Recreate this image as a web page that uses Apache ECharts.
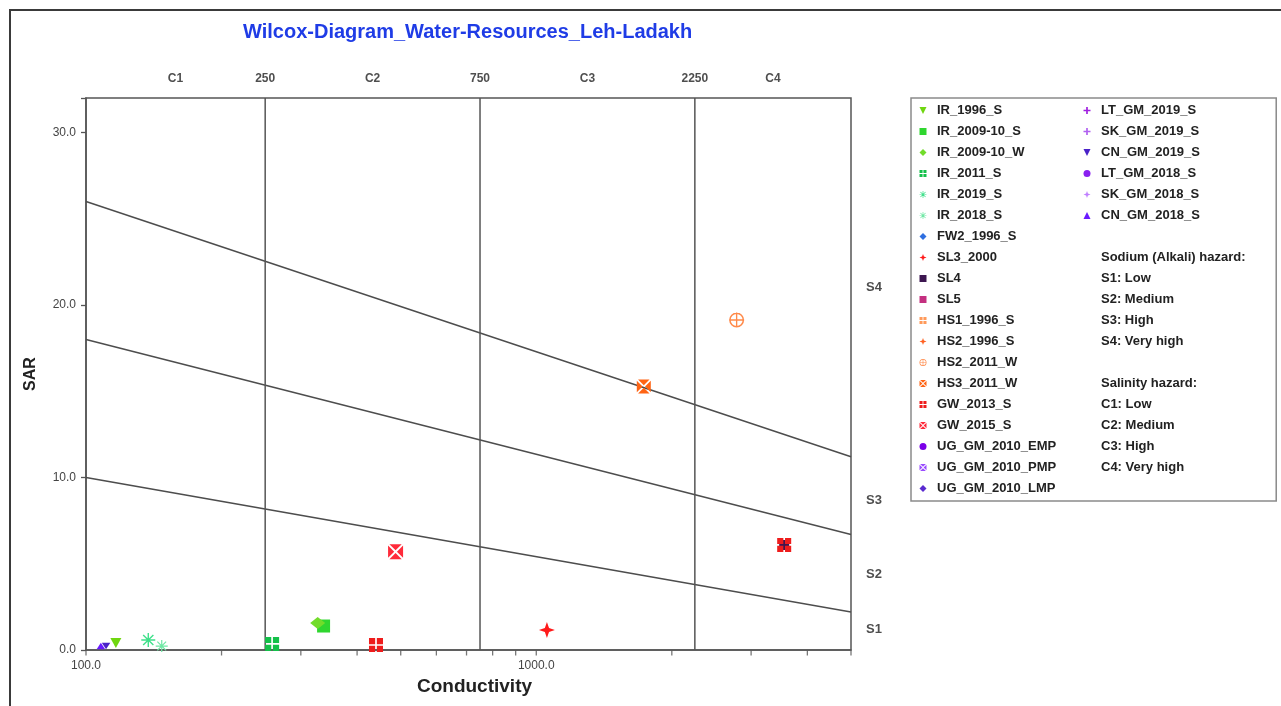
<!DOCTYPE html>
<html><head><meta charset="utf-8">
<script src="https://cdn.jsdelivr.net/npm/echarts@6/dist/echarts.min.js"></script>
<style>
html,body{margin:0;padding:0;background:#fff;width:1281px;height:706px;overflow:hidden}
#frame{position:absolute;left:9px;top:9px;width:1272px;height:697px;border-left:2px solid #3a3a3a;border-top:2px solid #3a3a3a;box-sizing:border-box}
#chart{position:absolute;left:0;top:0;width:1281px;height:706px}
</style></head><body>
<div id="frame"></div><div id="chart"></div>
<script>
// ---------- data ----------
const xRange = [100, 5000];
const yRange = [0, 32];
const xTickValues = [100, 200, 300, 400, 500, 600, 700, 800, 900, 1000, 2000, 3000, 4000, 5000];
const salinityBounds = [250, 750, 2250];
const topLabelPositions = [158, 250, 433, 750, 1299, 2250, 3354];
const topLabelTexts = ['C1', '250', 'C2', '750', 'C3', '2250', 'C4'];
const sodiumLabelPositions = [1.2, 4.4, 8.7, 21.0];
const sodiumLabelTexts = ['S1', 'S2', 'S3', 'S4'];
const lineS3S4 = [[100, 26], [5000, 11.2]];
const lineS2S3 = [[100, 18], [5000, 6.7]];
const lineS1S2 = [[100, 10], [5000, 2.2]];

const IR_1996_S = [[116.5, 0.41]];
const IR_2009_10_S = [[337, 1.39]];
const IR_2009_10_W = [[327, 1.57]];
const IR_2011_S = [[259, 0.35]];
const IR_2019_S = [[137.5, 0.58]];
const IR_2018_S = [[147.3, 0.23]];
const FW2_1996_S = [];
const SL3_2000 = [[1056, 1.16]];
const SL4 = [[3553, 6.09]];
const SL5 = [];
const HS1_1996_S = [];
const HS2_1996_S = [];
const HS2_2011_W = [[2786, 19.13]];
const HS3_2011_W = [[1733, 15.27]];
const GW_2013_S = [[440.6, 0.29], [3553, 6.09]];
const GW_2015_S = [[487, 5.70]];
const UG_GM_2010_EMP = [];
const UG_GM_2010_PMP = [];
const UG_GM_2010_LMP = [];
const LT_GM_2019_S = [];
const SK_GM_2019_S = [];
const CN_GM_2019_S = [[110.8, 0.23]];
const LT_GM_2018_S = [];
const SK_GM_2018_S = [];
const CN_GM_2018_S = [[107.9, 0.23]];

const leftLegendNames = ['IR_1996_S','IR_2009-10_S','IR_2009-10_W','IR_2011_S','IR_2019_S','IR_2018_S','FW2_1996_S','SL3_2000','SL4','SL5','HS1_1996_S','HS2_1996_S','HS2_2011_W','HS3_2011_W','GW_2013_S','GW_2015_S','UG_GM_2010_EMP','UG_GM_2010_PMP','UG_GM_2010_LMP'];
const rightLegendNames = ['LT_GM_2019_S','SK_GM_2019_S','CN_GM_2019_S','LT_GM_2018_S','SK_GM_2018_S','CN_GM_2018_S'];
const sodiumHazardTexts = ['Sodium (Alkali) hazard:', 'S1: Low', 'S2: Medium', 'S3: High', 'S4: Very high'];
const salinityHazardTexts = ['Salinity hazard:', 'C1: Low', 'C2: Medium', 'C3: High', 'C4: Very high'];

// ---------- styles ----------
const FONT = '"Liberation Sans", Arial, sans-serif';
const SYM = {
  tri: 'path://M5 0 L10 10 L0 10 Z',
  triDown: 'path://M0 0 L10 0 L5 10 Z',
  dia: 'path://M5 0 L10 5 L5 10 L0 5 Z',
  sq: 'path://M0 0 H10 V10 H0 Z',
  circ: 'path://M0 5 A5 5 0 1 1 10 5 A5 5 0 1 1 0 5 Z',
  star4: 'path://M5 0 L6.3 3.7 L10 5 L6.3 6.3 L5 10 L3.7 6.3 L0 5 L3.7 3.7 Z',
  aster: 'path://M0 4.5 H10 V5.5 H0 Z M4.5 0 H5.5 V10 H4.5 Z M1 1.7 L1.7 1 L9 8.3 L8.3 9 Z M8.3 1 L9 1.7 L1.7 9 L1 8.3 Z',
  cplus: 'path://M0 5 A5 5 0 1 1 10 5 A5 5 0 1 1 0 5 Z M1 5 A4 4 0 1 0 9 5 A4 4 0 1 0 1 5 Z M4.55 0 H5.45 V10 H4.55 Z M0 4.55 H10 V5.45 H0 Z',
  sqx: 'path://M0.9 0 H9.1 L5 4.1 Z M10 0.9 V9.1 L5.9 5 Z M9.1 10 H0.9 L5 5.9 Z M0 9.1 V0.9 L4.1 5 Z',
  sqp: 'path://M0 0 H4.4 V4.4 H0 Z M5.6 0 H10 V4.4 H5.6 Z M0 5.6 H4.4 V10 H0 Z M5.6 5.6 H10 V10 H5.6 Z',
  plus: 'path://M3.8 0 H6.2 V3.8 H10 V6.2 H6.2 V10 H3.8 V6.2 H0 V3.8 H3.8 Z'
};
const pointDefs = [
  ['IR_1996_S', IR_1996_S, SYM.triDown, [11, 10], '#6fd60f'],
  ['IR_2009-10_S', IR_2009_10_S, SYM.sq, 13, '#2fd62f'],
  ['IR_2009-10_W', IR_2009_10_W, SYM.dia, [15, 12], '#72dc2a'],
  ['IR_2011_S', IR_2011_S, SYM.sqp, 14, '#14c04a'],
  ['IR_2019_S', IR_2019_S, SYM.aster, 14, '#3fe08a'],
  ['IR_2018_S', IR_2018_S, SYM.aster, 12, '#6ee8a4'],
  ['FW2_1996_S', FW2_1996_S, SYM.dia, 10, '#2f6fe0'],
  ['SL3_2000', SL3_2000, SYM.star4, 16, '#ff1a1a'],
  ['SL4', SL4, SYM.plus, 10, '#3d1650'],
  ['SL5', SL5, SYM.sq, 10, '#c43080'],
  ['HS1_1996_S', HS1_1996_S, SYM.sqp, 10, '#ff9a5a'],
  ['HS2_1996_S', HS2_1996_S, SYM.star4, 10, '#ff6020'],
  ['HS2_2011_W', HS2_2011_W, SYM.cplus, 15, '#ff8a4a'],
  ['HS3_2011_W', HS3_2011_W, SYM.sqx, 14, '#ff6414'],
  ['GW_2013_S', GW_2013_S, SYM.sqp, 14, '#ee1c1c'],
  ['GW_2015_S', GW_2015_S, SYM.sqx, 15, '#ff2a3a'],
  ['UG_GM_2010_EMP', UG_GM_2010_EMP, SYM.circ, 10, '#7a00e8'],
  ['UG_GM_2010_PMP', UG_GM_2010_PMP, SYM.sqx, 10, '#9a4cff'],
  ['UG_GM_2010_LMP', UG_GM_2010_LMP, SYM.dia, 10, '#5a2ad0'],
  ['LT_GM_2019_S', LT_GM_2019_S, SYM.plus, 10, '#a020e0'],
  ['SK_GM_2019_S', SK_GM_2019_S, SYM.plus, 10, '#b060f0'],
  ['CN_GM_2019_S', CN_GM_2019_S, SYM.triDown, [8.5, 6.5], '#4a22c8'],
  ['LT_GM_2018_S', LT_GM_2018_S, SYM.circ, 10, '#8a20f0'],
  ['SK_GM_2018_S', SK_GM_2018_S, SYM.star4, 10, '#c080ff'],
  ['CN_GM_2018_S', CN_GM_2018_S, SYM.tri, [8.5, 6.5], '#6a1aff']
];

const series = [];
const lineStyle = { color: '#4d4d4d', width: 1.5 };
[lineS3S4, lineS2S3, lineS1S2].forEach((d, i) => series.push({
  type: 'line', name: 'sodium-boundary-' + i, data: d, symbol: 'none', silent: true, z: 1,
  lineStyle: lineStyle, animation: false
}));
salinityBounds.forEach((v, i) => series.push({
  type: 'line', name: 'salinity-boundary-' + i, data: [[v, yRange[0]], [v, yRange[1]]], symbol: 'none',
  silent: true, z: 1, lineStyle: { color: '#555', width: 1.5 }, animation: false
}));
series.push({
  type: 'scatter', name: 'xticks', data: xTickValues.map(v => [v, yRange[0]]), clip: false, silent: true,
  symbol: 'path://M0 0 H1 V5 H0 Z', symbolSize: [1.3, 5], symbolOffset: [0, 3],
  itemStyle: { color: '#555' }, z: 2
});
series.push({
  type: 'scatter', name: 'toplabels', data: topLabelPositions.map(v => [v, yRange[1]]), clip: false, silent: true,
  symbolSize: 0, itemStyle: { color: 'rgba(0,0,0,0)' },
  label: { show: true, position: 'top', distance: 13, formatter: p => topLabelTexts[p.dataIndex],
    color: '#222', fontSize: 12, fontWeight: 'bold', fontFamily: FONT }
});
series.push({
  type: 'scatter', name: 'sidelabels', data: sodiumLabelPositions.map(v => [xRange[1], v]), clip: false, silent: true,
  symbolSize: 0, itemStyle: { color: 'rgba(0,0,0,0)' },
  label: { show: true, position: 'right', distance: 15, formatter: p => sodiumLabelTexts[p.dataIndex],
    color: '#222', fontSize: 13, fontWeight: 'bold', fontFamily: FONT }
});
pointDefs.forEach(d => series.push({
  type: 'scatter', name: d[0], data: d[1], symbol: d[2], symbolSize: d[3],
  itemStyle: { color: d[4], opacity: 1 }, z: 3, silent: true
}));
const blankNames = [' ', '  '];
blankNames.concat(sodiumHazardTexts, salinityHazardTexts).forEach(n => series.push({
  type: 'scatter', name: n, data: [], itemStyle: { color: '#222' }
}));

const legendText = { color: '#222', fontSize: 13, fontWeight: 'bold', fontFamily: FONT };
const rightLegendData = rightLegendNames.map(n => ({ name: n }))
  .concat([{ name: blankNames[0], icon: 'none' }])
  .concat(sodiumHazardTexts.map(n => ({ name: n, icon: 'none' })))
  .concat([{ name: blankNames[1], icon: 'none' }])
  .concat(salinityHazardTexts.map(n => ({ name: n, icon: 'none' })));
const leftLegendData = leftLegendNames.map(n => n === 'SL4' ? { name: n, icon: SYM.sq } : { name: n });

const option = {
  backgroundColor: 'transparent',
  animation: false,
  title: {
    text: 'Wilcox-Diagram_Water-Resources_Leh-Ladakh', left: 243, top: 22, padding: 0,
    textStyle: { color: '#1f3ce6', fontSize: 20, fontWeight: 'bold', fontFamily: FONT }
  },
  grid: { left: 86, right: 430, top: 98, bottom: 56, show: true, borderColor: '#555', borderWidth: 1.5,
    backgroundColor: 'transparent', containLabel: false, outerBoundsMode: 'none' },
  xAxis: {
    type: 'log', logBase: 10, min: xRange[0], max: xRange[1],
    name: 'Conductivity', nameLocation: 'middle', nameGap: 26,
    nameTextStyle: { color: '#222', fontSize: 19, fontWeight: 'bold', fontFamily: FONT, padding: [0, 0, 0, 12] },
    axisLine: { show: true, lineStyle: { color: '#555', width: 1.5 } },
    axisTick: { show: false }, splitLine: { show: false }, minorTick: { show: false },
    axisLabel: {
      margin: 10, color: '#444', fontSize: 12, fontFamily: FONT,
      formatter: v => { const l = Math.log10(v); return (Math.abs(l - Math.round(l)) < 1e-6 && v < 4000) ? Math.round(v).toFixed(1) : ''; }
    }
  },
  yAxis: {
    type: 'value', min: yRange[0], max: yRange[1], interval: 10,
    name: 'SAR', nameLocation: 'middle', nameGap: 47,
    nameTextStyle: { color: '#222', fontSize: 16, fontWeight: 'bold', fontFamily: FONT },
    axisLine: { show: true, lineStyle: { color: '#555', width: 1.5 } },
    axisTick: { show: true, length: 5, lineStyle: { color: '#555', width: 1.3 } },
    splitLine: { show: false },
    axisLabel: { margin: 10, color: '#444', fontSize: 12, fontFamily: FONT,
      formatter: v => (v % 10 === 0 ? v.toFixed(1) : '') }
  },
  legend: [
    { orient: 'vertical', left: 911, top: 98, padding: [6, 220, 6, 8.5], itemGap: 8, itemWidth: 18, itemHeight: 7,
      borderColor: '#8a8a8a', borderWidth: 1.5, selectedMode: false, textStyle: legendText, data: leftLegendData },
    { orient: 'vertical', left: 1078, top: 104, padding: 0, itemGap: 8, itemWidth: 18, itemHeight: 7,
      selectedMode: false, textStyle: legendText, data: rightLegendData }
  ],
  series: series
};
const chart = echarts.init(document.getElementById('chart'), null, { renderer: 'canvas' });
chart.setOption(option);
</script></body></html>
